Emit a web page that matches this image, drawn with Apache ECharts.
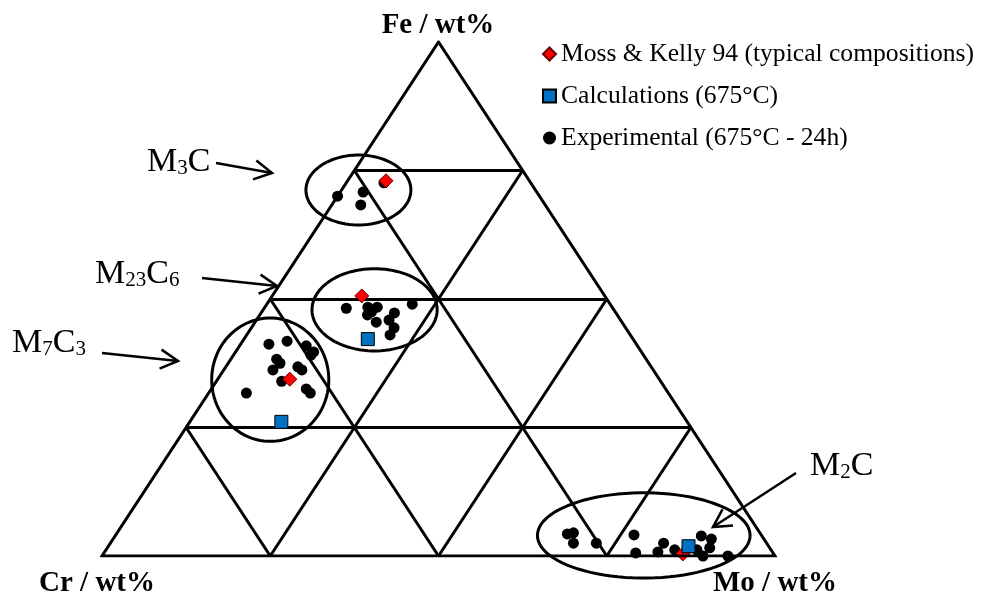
<!DOCTYPE html>
<html>
<head>
<meta charset="utf-8">
<script src="https://cdn.jsdelivr.net/npm/echarts@6/dist/echarts.min.js"></script>
<style>
html, body { margin: 0; padding: 0; background: #fff; }
#main { width: 983px; height: 594px; }
</style>
</head>
<body>
<div id="main"></div>
<script>
// compositions in wt%, Cr = 100 - Fe - Mo
var mossFe = [73.0, 50.6, 34.4, 0.4];
var mossMo = [5.7, 13.3, 10.7, 86.1];
var calcFe = [42.2, 26.1, 1.9];
var calcMo = [18.4, 13.6, 86.2];
var expFe = [70.0, 70.8, 68.3, 72.6,
    48.2, 48.4, 48.4, 46.9, 47.5, 45.5, 47.3, 45.9, 44.4, 43.0, 49.0,
    41.2, 41.8, 40.9, 39.7, 39.1, 38.3, 37.5, 36.2, 36.8, 36.2, 34.0, 32.5, 31.7, 31.7,
    4.3, 4.5, 2.5, 2.5, 4.1, 0.6, 0.8, 2.5, 1.2, 3.9, 3.3, 1.6, 0.0, 0.0, 1.6, 1.2];
var expMo = [0.0, 3.4, 4.3, 5.6,
    12.2, 15.3, 16.7, 16.0, 16.3, 18.0, 19.8, 19.7, 21.2, 21.3, 21.6,
    4.2, 6.6, 9.9, 11.6, 11.5, 6.8, 7.7, 7.3, 10.7, 11.6, 9.7, 14.1, 15.1, 5.6,
    67.0, 67.8, 68.8, 72.2, 77.0, 79.0, 82.2, 82.2, 84.5, 87.1, 88.9, 89.5, 89.3, 93.0, 86.6, 87.8];
var gridLevels = [25, 50, 75];
var seriesNames = ['Moss & Kelly 94 (typical compositions)', 'Calculations (675°C)', 'Experimental (675°C - 24h)'];
var phaseNames = ['M3C', 'M23C6', 'M7C3', 'M2C'];

var chart = echarts.init(document.getElementById('main'));
var serif = 'Liberation Serif';

// ternary -> plot coords (x 0..100 across base, y 0..100 up to Fe apex)
function toXY(fe, mo) {
    return [mo + fe / 2, fe];
}
function pts(fe, mo) {
    var out = [];
    for (var i = 0; i < fe.length; i++) out.push(toXY(fe[i], mo[i]));
    return out;
}

var gridLines = [];
gridLevels.forEach(function (f) {
    gridLines.push({coords: [toXY(f, 0), toXY(f, 100 - f)]});      // Fe = f
    gridLines.push({coords: [toXY(0, f), toXY(100 - f, f)]});      // Mo = f
    gridLines.push({coords: [toXY(0, 100 - f), toXY(100 - f, 0)]}); // Cr = f
});

// phase regions: centre x, centre y, half width, half height (plot units)
var rings = [
    [38.1, 71.2, 7.8, 6.8],
    [40.5, 47.9, 9.3, 8.0],
    [25.0, 34.3, 8.7, 12.0],
    [80.5, 4.0, 15.8, 8.3]
];

function arrow(x1, y1, x2, y2) {
    var a = Math.atan2(y2 - y1, x2 - x1);
    var len = 20, sp = 0.5;
    var st = {stroke: '#000', lineWidth: 2.5, fill: 'none'};
    return [
        {type: 'polyline', shape: {points: [[x1, y1], [x2, y2]]}, style: st},
        {type: 'polyline', shape: {points: [
            [x2 - len * Math.cos(a - sp), y2 - len * Math.sin(a - sp)],
            [x2, y2],
            [x2 - len * Math.cos(a + sp), y2 - len * Math.sin(a + sp)]
        ]}, style: st}
    ];
}

function phaseLabel(txt, x, y) {
    return {
        type: 'text', x: x, y: y,
        style: {
            text: txt, fill: '#000', verticalAlign: 'top',
            rich: {
                m: {fontFamily: serif, fontSize: 34, lineHeight: 34, fill: '#000'},
                s: {fontFamily: serif, fontSize: 21, lineHeight: 17, verticalAlign: 'bottom', fill: '#000'}
            }
        }
    };
}

function axisLabel(txt, x, y) {
    return {
        type: 'text', x: x, y: y,
        style: {text: txt, fill: '#000', font: 'bold 29px "Liberation Serif"', align: 'center', verticalAlign: 'middle'}
    };
}

var graphics = [
    axisLabel('Fe / wt%', 438, 26),
    axisLabel('Cr / wt%', 97, 584),
    axisLabel('Mo / wt%', 775, 584),
    phaseLabel('{m|M}{s|3}{m|C}', 147, 145),
    phaseLabel('{m|M}{s|23}{m|C}{s|6}', 95, 257),
    phaseLabel('{m|M}{s|7}{m|C}{s|3}', 12, 326),
    phaseLabel('{m|M}{s|2}{m|C}', 810, 449)
].concat(arrow(216, 163, 272, 173), arrow(202, 278, 277, 286),
    arrow(102, 353, 178, 361), arrow(796, 473, 713, 527));

var option = {
    backgroundColor: '#fff',
    animation: false,
    grid: {left: 102, right: 208, top: 42, bottom: 38},
    xAxis: {type: 'value', min: 0, max: 100, show: false},
    yAxis: {type: 'value', min: 0, max: 100, show: false},
    legend: {
        data: seriesNames,
        orient: 'vertical',
        left: 537,
        top: 35,
        itemWidth: 13,
        itemHeight: 13,
        itemGap: 14,
        textStyle: {fontFamily: serif, fontSize: 25.6, color: '#000', lineHeight: 28}
    },
    graphic: graphics,
    series: [
        {
            type: 'line', silent: true, symbol: 'none',
            data: [toXY(0, 0), toXY(0, 100), toXY(100, 0), toXY(0, 0), toXY(0, 100)],
            lineStyle: {color: '#000', width: 3, join: 'miter'}
        },
        {
            type: 'lines', coordinateSystem: 'cartesian2d', silent: true,
            data: gridLines,
            lineStyle: {color: '#000', width: 3, opacity: 1}
        },
        {
            type: 'custom', silent: true,
            data: rings,
            renderItem: function (params, api) {
                var c = api.coord([api.value(0), api.value(1)]);
                var s = api.size([api.value(2), api.value(3)]);
                var p = [];
                for (var i = 0; i < 90; i++) {
                    var t = i / 90 * Math.PI * 2;
                    p.push([c[0] + s[0] * Math.cos(t), c[1] + s[1] * Math.sin(t)]);
                }
                return {type: 'polygon', shape: {points: p}, style: {fill: 'none', stroke: '#000', lineWidth: 3}};
            }
        },
        {
            name: seriesNames[2], type: 'scatter', symbol: 'circle', symbolSize: 11,
            data: pts(expFe, expMo),
            itemStyle: {color: '#000', opacity: 1}
        },
        {
            name: seriesNames[0], type: 'scatter', symbol: 'diamond', symbolSize: 14,
            data: pts(mossFe, mossMo),
            itemStyle: {color: '#ff0000', borderColor: '#600', borderWidth: 1, opacity: 1}
        },
        {
            name: seriesNames[1], type: 'scatter', symbol: 'rect', symbolSize: 13,
            data: pts(calcFe, calcMo),
            itemStyle: {color: '#0070c0', borderColor: '#000', borderWidth: 1, opacity: 1}
        }
    ]
};
chart.setOption(option);
</script>
</body>
</html>
